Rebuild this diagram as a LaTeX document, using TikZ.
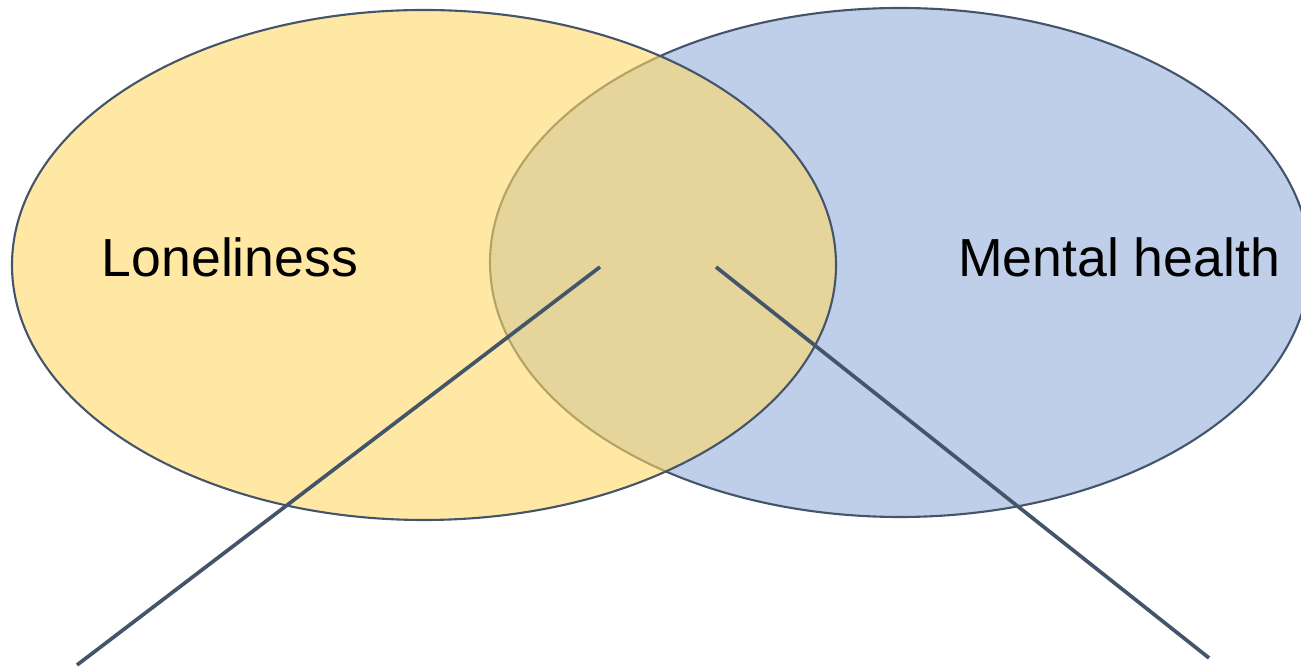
\documentclass[tikz,border=0pt]{standalone}
\usepackage{fontspec}
\setmainfont{Liberation Sans}
\usepackage{tikz}
\usetikzlibrary{positioning}

\definecolor{edgeslate}{HTML}{44546A}
\definecolor{setgold}{HTML}{FFD966}
\definecolor{setblue}{HTML}{BFCFEA}

\begin{document}
\begin{tikzpicture}[scale=1.0,
  setlabel/.style={font=\fontsize{30.5}{36}\selectfont, text=black},
  pointer/.style={draw=edgeslate, line width=2.1pt}]
% frame of the picture
\clip (0,0) rectangle (26.02,13.4);
\useasboundingbox (0,0) rectangle (26.02,13.4);
% mental health set (behind)
\filldraw[fill=setblue, draw=edgeslate, line width=1.2pt] (18.00,8.15) ellipse [x radius=8.20, y radius=5.09];
% loneliness set, see-through over the other one
\filldraw[fill=setgold, fill opacity=0.6, draw=edgeslate, line width=1.2pt] (8.48,8.10) ellipse [x radius=8.24, y radius=5.10];
% labels of the sets
\node[setlabel] (lonely) at (4.60,8.25){Loneliness};
\node[setlabel] (mental) at (22.38,8.25){Mental health};
% pointers out of the overlap
\coordinate (overlapL) at (12.00,8.06);
\coordinate (overlapR) at (14.32,8.06);
\coordinate (endL) at (1.54,0.10);
\coordinate (endR) at (24.18,0.24);
\draw[pointer] (overlapL) -- (endL);
\draw[pointer] (overlapR) -- (endR);
\end{tikzpicture}
\end{document}
